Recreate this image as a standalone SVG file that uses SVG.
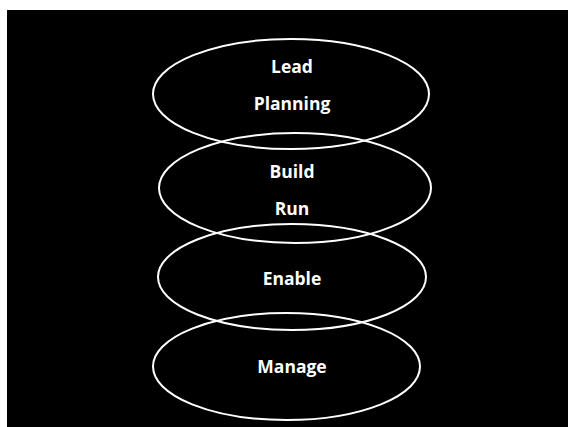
<svg xmlns="http://www.w3.org/2000/svg" width="568" height="427" viewBox="0 0 568 427">
<style>
.e{fill:none;stroke:#fff;stroke-width:2}
.t{fill:#fff;font-family:"Open Sans","Noto Sans",sans-serif;font-weight:700;font-size:17.5px;text-anchor:middle}
</style>
<rect x="0" y="0" width="568" height="427" fill="#fff"/>
<rect x="7" y="10" width="561" height="417" fill="#000"/>
<g id="connectors"></g>
<g id="lead"><ellipse class="e" cx="291" cy="94" rx="138" ry="55"/><text class="t" x="292" y="73">Lead</text><text class="t" x="292" y="110">Planning</text></g>
<g id="build"><ellipse class="e" cx="295" cy="188" rx="136" ry="55"/><text class="t" x="292" y="178">Build</text><text class="t" x="292" y="215">Run</text></g>
<g id="enable"><ellipse class="e" cx="292" cy="277" rx="134" ry="53"/><text class="t" x="292" y="285">Enable</text></g>
<g id="manage"><ellipse class="e" cx="286.5" cy="366.5" rx="133.5" ry="53.5"/><text class="t" x="292" y="373">Manage</text></g>
</svg>
